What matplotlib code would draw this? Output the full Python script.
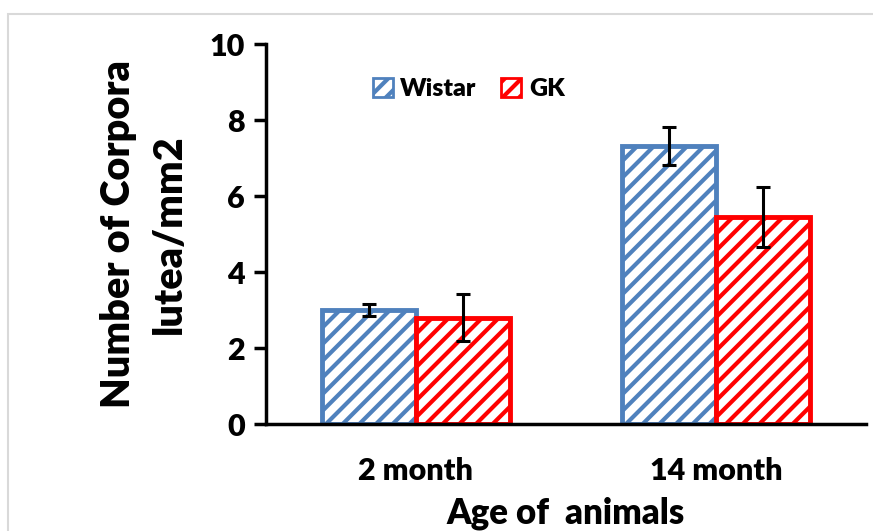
import matplotlib.pyplot as plt
import matplotlib.patches as mpatches
import numpy as np

plt.rcParams['font.family'] = ['Lato', 'DejaVu Sans']
plt.rcParams['font.weight'] = 'heavy'
plt.rcParams['hatch.linewidth'] = 3.0

categories = ['2 month', '14 month']
wistar = [3.0, 7.32]
wistar_err = [0.16, 0.5]
gk = [2.8, 5.45]
gk_err = [0.62, 0.78]

blue = '#4F81BD'
red = '#FF0000'

fig = plt.figure(figsize=(8.73, 5.31), dpi=100)
fig.patches.append(mpatches.Rectangle((8 / 873, -0.1), 1.1, (531 - 14) / 531 + 0.1,
                                      transform=fig.transFigure, fill=False,
                                      edgecolor='#D9D9D9', linewidth=1.5))
ax = fig.add_axes([266 / 873, (531 - 424) / 531, 600 / 873, 380 / 531])

x = np.array([0.5, 1.5])
w = 0.313
plt.rcParams['hatch.color'] = blue
ax.bar(x - w / 2, wistar, w, color='white', edgecolor=blue, hatch='//',
       linewidth=3.5, label='Wistar', zorder=2)
ax.errorbar(x - w / 2, wistar, yerr=wistar_err, fmt='none', ecolor='black',
            elinewidth=2.2, capsize=5, capthick=2.2, zorder=3)
bars_gk = ax.bar(x + w / 2, gk, w, color='white', edgecolor=red, hatch='//',
                 linewidth=3.5, label='GK', zorder=2)
for b in bars_gk:
    b._hatch_color = (1.0, 0.0, 0.0, 1.0)
ax.errorbar(x + w / 2, gk, yerr=gk_err, fmt='none', ecolor='black',
            elinewidth=2.2, capsize=5, capthick=2.2, zorder=3)

ax.set_xlim(0, 2)
ax.set_ylim(0, 10)
ax.set_yticks([0, 2, 4, 6, 8, 10])
ax.set_xticks(x)
ax.set_xticklabels(categories)
ax.tick_params(axis='x', length=0, pad=24, labelsize=22)
ax.tick_params(axis='y', length=9, width=2.5, direction='out', labelsize=22, pad=6)
for s in ['top', 'right']:
    ax.spines[s].set_visible(False)
ax.spines['left'].set_linewidth(2.5)
ax.spines['bottom'].set_linewidth(2.5)

ax.set_ylabel('Number of Corpora\nlutea/mm2', fontsize=28.5, fontweight='heavy',
              labelpad=16, linespacing=1.45)
ax.set_xlabel('Age of  animals', fontsize=25, fontweight='heavy', labelpad=8)

leg = ax.legend(loc='upper left', bbox_to_anchor=(0.14, 0.97), ncol=2, frameon=False,
                fontsize=18, handlelength=0.8, handleheight=0.8, handletextpad=0.3,
                columnspacing=1.0)
for h in leg.legend_handles:
    h.set_linewidth(2)

fig.savefig('out.png', dpi=100)
